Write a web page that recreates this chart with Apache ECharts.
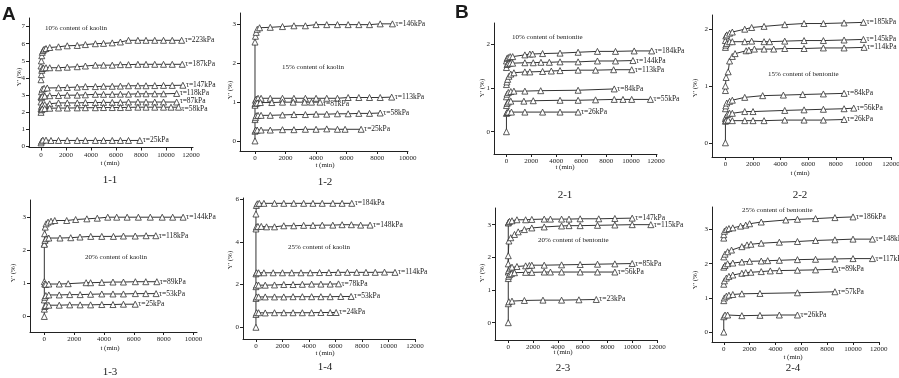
<!DOCTYPE html>
<html>
<head>
<meta charset="utf-8">
<script src="https://cdn.jsdelivr.net/npm/echarts@6/dist/echarts.min.js"></script>
<style>
html,body{margin:0;padding:0;background:#fff;}
#main{width:899px;height:378px;}
</style>
</head>
<body>
<div id="main"></div>
<script>
// tick labels
var xTicks12 = [0, 2000, 4000, 6000, 8000, 10000, 12000];
var xTicks10 = [0, 2000, 4000, 6000, 8000, 10000];
var yTicks7 = [0, 1, 2, 3, 4, 5, 6, 7];
var yTicks6 = [0, 2, 4, 6];
var yTicks3 = [0, 1, 2, 3];
var yTicks2 = [0, 1, 2];

// 1-1  10% kaolin
var names11 = ['τ=223kPa', 'τ=187kPa', 'τ=147kPa', 'τ=118kPa', 'τ=87kPa', 'τ=58kPa', 'τ=25kPa'];
var data11 = [
	[[0,4.7],[30,5.0],[60,5.3],[100,5.5],[160,5.6],[250,5.68],[400,5.72],[700,5.78],[1400,5.82],[2100,5.88],[2900,5.9],[3550,5.95],[4350,6.0],[5000,6.02],[5700,6.05],[6350,6.1],[7000,6.2],[7750,6.2],[8400,6.2],[9100,6.2],[9800,6.2],[10500,6.2],[11250,6.2]],
	[[0,3.9],[30,4.2],[60,4.45],[100,4.55],[200,4.58],[400,4.6],[700,4.6],[1400,4.6],[2100,4.63],[2900,4.66],[3550,4.7],[4350,4.75],[5000,4.75],[5700,4.75],[6350,4.78],[7000,4.78],[7750,4.8],[8400,4.8],[9100,4.8],[9800,4.8],[10500,4.8],[11300,4.8]],
	[[0,2.9],[40,3.2],[100,3.35],[250,3.4],[500,3.42],[1400,3.43],[2100,3.45],[2900,3.47],[3550,3.5],[4350,3.5],[5000,3.52],[5700,3.52],[6350,3.53],[7000,3.55],[7750,3.55],[8400,3.55],[9100,3.56],[9800,3.57],[10500,3.57],[11350,3.58]],
	[[0,2.6],[40,2.85],[100,2.93],[300,2.95],[700,2.97],[1400,2.98],[2100,3.0],[2900,3.0],[3550,3.02],[4350,3.05],[5000,3.05],[5700,3.05],[6350,3.06],[7000,3.06],[7750,3.08],[8400,3.08],[9100,3.08],[9800,3.08],[10850,3.1]],
	[[0,2.2],[40,2.35],[100,2.42],[300,2.45],[700,2.5],[1400,2.55],[2100,2.55],[2900,2.55],[3550,2.57],[4350,2.57],[5000,2.58],[5700,2.58],[6350,2.58],[7000,2.6],[7750,2.6],[8400,2.6],[9100,2.6],[9800,2.6],[10850,2.6]],
	[[0,2.0],[40,2.15],[100,2.2],[300,2.22],[700,2.24],[1400,2.25],[2100,2.25],[2900,2.26],[3550,2.27],[4350,2.27],[5000,2.28],[5700,2.28],[6350,2.28],[7000,2.29],[7750,2.3],[8400,2.3],[9100,2.3],[9800,2.3],[10400,2.3],[11000,2.3]],
	[[0,0.22],[50,0.32],[150,0.38],[400,0.38],[800,0.36],[1400,0.36],[2100,0.36],[2900,0.36],[3550,0.36],[4350,0.36],[5000,0.36],[5700,0.36],[6350,0.36],[7000,0.36],[7900,0.36]]
];

// 1-2  15% kaolin
var names12 = ['τ=146kPa', 'τ=113kPa', 'τ=81kPa', 'τ=58kPa', 'τ=25kPa'];
var data12 = [
	[[0,0],[0,2.55],[30,2.7],[80,2.8],[150,2.88],[300,2.92],[1000,2.93],[1800,2.95],[2550,2.97],[3300,2.97],[4000,3.0],[4700,3.0],[5400,3.0],[6100,3.0],[6800,3.0],[7500,3.0],[8200,3.02],[9000,3.02]],
	[[0,0.95],[30,1.05],[80,1.08],[200,1.1],[400,1.1],[1000,1.1],[1800,1.1],[2550,1.1],[3300,1.1],[4000,1.1],[4700,1.1],[5400,1.1],[6100,1.12],[6800,1.12],[7500,1.12],[8200,1.12],[8950,1.13]],
	[[0,0.92],[50,0.97],[150,0.98],[350,0.99],[1100,0.99],[1800,1.0],[2500,1.0],[3250,1.0],[3700,1.0],[4260,1.0]],
	[[0,0.55],[30,0.6],[80,0.65],[200,0.66],[400,0.66],[1000,0.66],[1800,0.67],[2550,0.68],[3300,0.68],[4000,0.69],[4700,0.69],[5400,0.7],[6100,0.7],[6800,0.71],[7500,0.71],[8200,0.72]],
	[[0,0.25],[50,0.28],[150,0.28],[400,0.28],[1000,0.28],[1800,0.29],[2550,0.29],[3300,0.3],[4000,0.3],[4700,0.31],[5400,0.3],[5900,0.3],[6950,0.3]]
];

// 1-3  20% kaolin
var names13 = ['τ=144kPa', 'τ=118kPa', 'τ=89kPa', 'τ=53kPa', 'τ=25kPa'];
var data13 = [
	[[0,0],[0,2.2],[20,2.5],[60,2.7],[120,2.8],[250,2.85],[450,2.88],[700,2.9],[1500,2.9],[2100,2.93],[2850,2.95],[3550,2.97],[4250,3.0],[4850,3.0],[5550,3.0],[6300,3.0],[7100,3.0],[7900,3.0],[8600,3.0],[9300,3.0]],
	[[0,2.18],[40,2.3],[120,2.35],[300,2.37],[1050,2.37],[1770,2.38],[2390,2.4],[3110,2.42],[3850,2.42],[4630,2.42],[5300,2.43],[6090,2.43],[6820,2.44],[7470,2.44]],
	[[0,1.05],[30,0.98],[100,0.97],[300,0.98],[1000,0.98],[1600,0.99],[2800,1.02],[3100,1.02],[3850,1.03],[4600,1.04],[5300,1.04],[6100,1.05],[6800,1.05],[7540,1.05]],
	[[0,0.5],[30,0.58],[100,0.63],[300,0.65],[1000,0.65],[1700,0.66],[2400,0.66],[3100,0.67],[3850,0.68],[4600,0.68],[5300,0.68],[6100,0.69],[6800,0.69],[7490,0.69]],
	[[0,0.22],[30,0.3],[100,0.33],[300,0.34],[1000,0.34],[1700,0.35],[2400,0.35],[3100,0.35],[3850,0.36],[4600,0.36],[5300,0.37],[6090,0.37]]
];

// 1-4  25% kaolin
var names14 = ['τ=184kPa', 'τ=148kPa', 'τ=114kPa', 'τ=78kPa', 'τ=53kPa', 'τ=24kPa'];
var data14 = [
	[[0,0],[0,5.3],[30,5.7],[100,5.78],[250,5.8],[600,5.8],[1400,5.8],[2100,5.8],[2850,5.8],[3600,5.8],[4300,5.8],[5000,5.8],[5800,5.8],[6500,5.8],[7230,5.8]],
	[[0,4.6],[40,4.7],[150,4.72],[400,4.72],[800,4.7],[1400,4.7],[2100,4.75],[2850,4.75],[3600,4.77],[4300,4.77],[5000,4.78],[5800,4.78],[6500,4.8],[7200,4.8],[7900,4.78],[8610,4.78]],
	[[0,2.5],[50,2.55],[200,2.55],[600,2.55],[1300,2.55],[2000,2.55],[2700,2.55],[3400,2.55],[4100,2.55],[4800,2.56],[5500,2.56],[6200,2.57],[6900,2.57],[7600,2.57],[8300,2.57],[9000,2.57],[9700,2.58],[10490,2.57]],
	[[0,1.9],[50,1.98],[200,1.97],[700,1.97],[1400,1.98],[2100,2.0],[2800,2.0],[3500,2.01],[4200,2.02],[4900,2.02],[5600,2.02],[6230,2.03]],
	[[0,1.35],[50,1.42],[200,1.42],[700,1.42],[1400,1.42],[2100,1.42],[2800,1.43],[3500,1.43],[4200,1.43],[4900,1.43],[5600,1.43],[6400,1.44],[7180,1.44]],
	[[0,0.6],[50,0.68],[200,0.68],[700,0.67],[1400,0.68],[2100,0.68],[2800,0.68],[3500,0.68],[4200,0.68],[4900,0.69],[5600,0.69],[6050,0.69]]
];

// 2-1  10% bentonite
var names21 = ['τ=184kPa', 'τ=144kPa', 'τ=113kPa', 'τ=84kPa', 'τ=55kPa', 'τ=26kPa'];
var data21 = [
	[[0,1.62],[50,1.68],[150,1.7],[300,1.72],[500,1.72],[1480,1.76],[1880,1.78],[2100,1.78],[2900,1.79],[4300,1.8],[5750,1.82],[7300,1.84],[8750,1.84],[10250,1.85],[11650,1.85]],
	[[0,1.47],[50,1.54],[150,1.56],[300,1.57],[500,1.57],[1480,1.58],[2150,1.58],[2770,1.59],[3440,1.59],[4300,1.6],[5750,1.6],[7300,1.62],[8750,1.62],[10150,1.63]],
	[[0,1.08],[40,1.14],[100,1.2],[200,1.27],[350,1.32],[600,1.35],[1480,1.37],[1880,1.37],[2900,1.38],[3600,1.39],[4300,1.4],[5750,1.41],[7150,1.41],[8600,1.42],[10050,1.42]],
	[[0,0.8],[50,0.86],[150,0.9],[350,0.92],[600,0.93],[1480,0.93],[2750,0.94],[5750,0.95],[8650,0.98]],
	[[0,0.6],[50,0.65],[150,0.68],[350,0.7],[1400,0.7],[2150,0.71],[4300,0.72],[5750,0.72],[7150,0.73],[8650,0.74],[9350,0.74],[10050,0.74],[11550,0.74]],
	[[0,0],[0,0.42],[50,0.44],[150,0.45],[400,0.45],[1480,0.45],[2900,0.45],[4300,0.45],[5750,0.45]]
];

// 2-2  15% bentonite
var names22 = ['τ=185kPa', 'τ=145kPa', 'τ=114kPa', 'τ=84kPa', 'τ=56kPa', 'τ=26kPa'];
var data22 = [
	[[0,1.8],[30,1.88],[100,1.9],[300,1.93],[500,1.95],[1400,2.0],[1900,2.03],[2800,2.05],[4300,2.08],[5700,2.1],[7100,2.1],[8600,2.11],[10000,2.12]],
	[[0,1.68],[30,1.72],[100,1.75],[300,1.78],[500,1.78],[1400,1.78],[1900,1.79],[2800,1.78],[3200,1.78],[4300,1.79],[5700,1.8],[7100,1.8],[8600,1.81],[10000,1.82]],
	[[0,0.92],[0,1.0],[50,1.15],[200,1.25],[300,1.44],[500,1.52],[700,1.57],[1500,1.62],[1700,1.63],[2100,1.65],[2800,1.65],[3500,1.65],[4300,1.66],[5700,1.66],[7100,1.67],[8600,1.67],[10050,1.68]],
	[[0,0.6],[30,0.65],[100,0.7],[300,0.73],[500,0.75],[1400,0.8],[2700,0.83],[4200,0.84],[5600,0.85],[7100,0.86],[8600,0.87]],
	[[0,0.42],[30,0.45],[150,0.5],[300,0.52],[500,0.52],[1400,0.55],[2000,0.55],[4300,0.57],[5700,0.58],[7100,0.59],[8600,0.6],[9300,0.61]],
	[[0,0],[0,0.38],[50,0.39],[200,0.4],[500,0.39],[1400,0.39],[2000,0.39],[2800,0.39],[4300,0.4],[5700,0.4],[7100,0.4],[8600,0.41]]
];

// 2-3  20% bentonite
var names23 = ['τ=147kPa', 'τ=115kPa', 'τ=85kPa', 'τ=56kPa', 'τ=23kPa'];
var data23 = [
	[[0,0],[0,3.05],[30,3.08],[100,3.1],[300,3.12],[700,3.15],[1400,3.15],[1900,3.16],[2900,3.17],[3400,3.17],[4300,3.17],[4900,3.17],[5800,3.18],[7300,3.18],[8600,3.19],[10000,3.2]],
	[[0,1.8],[0,2.05],[50,2.5],[200,2.6],[500,2.7],[800,2.78],[1300,2.85],[1900,2.9],[2900,2.93],[4300,2.96],[4900,2.97],[5800,2.97],[7200,2.98],[8600,2.99],[10000,3.0],[11500,3.0]],
	[[0,1.55],[30,1.6],[150,1.67],[300,1.7],[700,1.72],[1400,1.74],[1700,1.75],[1900,1.76],[2900,1.76],[4300,1.77],[5800,1.78],[7200,1.79],[8600,1.8],[10000,1.81]],
	[[0,1.35],[30,1.42],[100,1.47],[250,1.5],[500,1.53],[1400,1.54],[1900,1.54],[2900,1.55],[3400,1.55],[4300,1.55],[5800,1.55],[7200,1.55],[8600,1.55]],
	[[0,0.58],[50,0.64],[300,0.66],[1300,0.68],[2800,0.69],[4300,0.69],[5700,0.7],[7100,0.71]]
];

// 2-4  25% bentonite
var names24 = ['τ=186kPa', 'τ=148kPa', 'τ=117kPa', 'τ=89kPa', 'τ=57kPa', 'τ=26kPa'];
var data24 = [
	[[0,2.75],[0,2.85],[50,2.95],[200,3.0],[400,3.03],[700,3.05],[1300,3.1],[1700,3.13],[2000,3.17],[2900,3.22],[4800,3.28],[5700,3.3],[7100,3.32],[8600,3.35],[10000,3.37]],
	[[0,2.2],[100,2.28],[300,2.35],[600,2.4],[1400,2.5],[1800,2.55],[2100,2.57],[2900,2.6],[4300,2.63],[5700,2.65],[7100,2.68],[8600,2.7],[10000,2.72],[11500,2.72]],
	[[0,1.9],[100,1.95],[300,2.0],[700,2.02],[1400,2.05],[2000,2.07],[2900,2.08],[3400,2.09],[4300,2.1],[5700,2.12],[7100,2.13],[8600,2.14],[10000,2.15],[11500,2.15]],
	[[0,1.4],[50,1.5],[200,1.58],[400,1.63],[700,1.67],[1400,1.72],[1700,1.74],[2100,1.75],[2900,1.77],[3600,1.79],[4300,1.8],[5700,1.81],[7100,1.82],[8600,1.84]],
	[[0,0.92],[50,1.0],[200,1.05],[400,1.08],[700,1.1],[1400,1.12],[2800,1.13],[5700,1.15],[8600,1.18]],
	[[0,0],[0,0.45],[100,0.5],[300,0.5],[1400,0.48],[2800,0.49],[4300,0.5],[5700,0.5]]
];

var SERIF = '"Liberation Serif", "DejaVu Serif", serif';

// panel layout: axis box in px, axis ranges, texts, end-label nudges
var panels = [
	{names:names11, data:data11, box:[29,18,193,147.5], xr:[-960,12160], yr:[-0.05,7.5], xt:xTicks12, yt:yTicks7,
		cap:'1-1', capXY:[110,180], tXY:[110,163], yXY:[19,77], note:'10% content of kaolin', noteXY:[45,28], nudge:{4:[0,-1], 5:[0,2]}},
	{names:names12, data:data12, box:[240,13,408,151], xr:[-982,10020], yr:[-0.26,3.3], xt:xTicks10, yt:yTicks3,
		cap:'1-2', capXY:[325,182], tXY:[325,165], yXY:[230,90], note:'15% content of kaolin', noteXY:[282,67], nudge:{2:[0,2]}},
	{names:names13, data:data13, box:[30,200,197,332], xr:[-960,10230], yr:[-0.47,3.52], xt:xTicks10, yt:yTicks3,
		cap:'1-3', capXY:[110,372], tXY:[110,348], yXY:[13,273], note:'20% content of kaolin', noteXY:[85,257]},
	{names:names14, data:data14, box:[243,198,415,339], xr:[-977,12000], yr:[-0.55,6.05], xt:xTicks12, yt:yTicks6,
		cap:'1-4', capXY:[325,367], tXY:[325,353], yXY:[230,260], note:'25% content of kaolin', noteXY:[288,247]},
	{names:names21, data:data21, box:[494,23,657,154], xr:[-998,12080], yr:[-0.51,2.49], xt:xTicks12, yt:yTicks2,
		cap:'2-1', capXY:[565,195], tXY:[565,167], yXY:[482,88], note:'10% content of bentonite', noteXY:[512,37]},
	{names:names22, data:data22, box:[712,15,891,157], xr:[-973,12000], yr:[-0.25,2.25], xt:xTicks12, yt:yTicks2,
		cap:'2-2', capXY:[800,195], tXY:[800,173], yXY:[695,88], note:'15% content of bentonite', noteXY:[768,74]},
	{names:names23, data:data23, box:[495,208,657,340], xr:[-1071,12000], yr:[-0.53,3.51], xt:xTicks12, yt:yTicks3,
		cap:'2-3', capXY:[563,368], tXY:[563,352], yXY:[482,273], note:'20% content of bentonite', noteXY:[538,240]},
	{names:names24, data:data24, box:[712,207,879,342], xr:[-910,12010], yr:[-0.29,3.66], xt:xTicks12, yt:yTicks3,
		cap:'2-4', capXY:[793,368], tXY:[793,357], yXY:[695,280], note:'25% content of bentonite', noteXY:[742,210]}
];

var grids = [], xAxes = [], yAxes = [], series = [], texts = [];

function txt(s, x, y, size, opt){
	opt = opt || {};
	return {
		type:'text', x:x, y:y, rotation:opt.rot || 0, z:100,
		style:{
			text:s, x:0, y:0, fill:'#1a1a1a',
			font:(opt.weight || 'normal') + ' ' + size + 'px ' + (opt.family || SERIF),
			align:opt.align || 'center', textAlign:opt.align || 'center',
			verticalAlign:'middle', textVerticalAlign:'middle'
		}
	};
}

function plain(v){ return String(v); }

panels.forEach(function(p, i){
	var b = p.box;
	grids.push({left:b[0], top:b[1], width:b[2]-b[0], height:b[3]-b[1], containLabel:false, outerBoundsMode:'none'});
	xAxes.push({
		type:'value', gridIndex:i, min:p.xr[0], max:p.xr[1],
		axisLine:{onZero:false, lineStyle:{color:'#222', width:1}},
		axisTick:{customValues:p.xt, length:3, lineStyle:{color:'#222'}},
		axisLabel:{customValues:p.xt, formatter:plain, fontFamily:SERIF, fontSize:7, color:'#222', margin:4},
		splitLine:{show:false}
	});
	yAxes.push({
		type:'value', gridIndex:i, min:p.yr[0], max:p.yr[1],
		axisLine:{show:true, onZero:false, lineStyle:{color:'#222', width:1}},
		axisTick:{show:true, customValues:p.yt, length:3, lineStyle:{color:'#222'}},
		axisLabel:{customValues:p.yt, formatter:plain, fontFamily:SERIF, fontSize:7, color:'#222', margin:4},
		splitLine:{show:false}
	});
	p.data.forEach(function(d, k){
		var off = (p.nudge && p.nudge[k]) || [0, 0];
		series.push({
			type:'line', name:p.names[k], xAxisIndex:i, yAxisIndex:i, data:d,
			symbol:'triangle', symbolSize:6, showAllSymbol:true,
			lineStyle:{color:'#333', width:1},
			itemStyle:{color:'#fff', borderColor:'#333', borderWidth:0.8},
			endLabel:{show:true, formatter:'{a}', distance:3, offset:off, fontFamily:SERIF, fontSize:7.5, color:'#1a1a1a'},
			emphasis:{disabled:true}, silent:true
		});
	});
	texts.push(txt(p.cap, p.capXY[0], p.capXY[1], 11));
	texts.push(txt('t (min)', p.tXY[0], p.tXY[1], 7));
	texts.push(txt("Y' (%)", p.yXY[0], p.yXY[1], 7, {rot:Math.PI/2}));
	texts.push(txt(p.note, p.noteXY[0], p.noteXY[1], 7, {align:'left'}));
});

texts.push(txt('A', 2, 15, 19, {align:'left', weight:'bold', family:'"Liberation Sans", Arial, sans-serif'}));
texts.push(txt('B', 455, 13, 19, {align:'left', weight:'bold', family:'"Liberation Sans", Arial, sans-serif'}));

var chart = echarts.init(document.getElementById('main'));
chart.setOption({
	backgroundColor:'#fff',
	animation:false,
	grid:grids,
	xAxis:xAxes,
	yAxis:yAxes,
	series:series,
	graphic:texts
});
</script>
</body>
</html>
